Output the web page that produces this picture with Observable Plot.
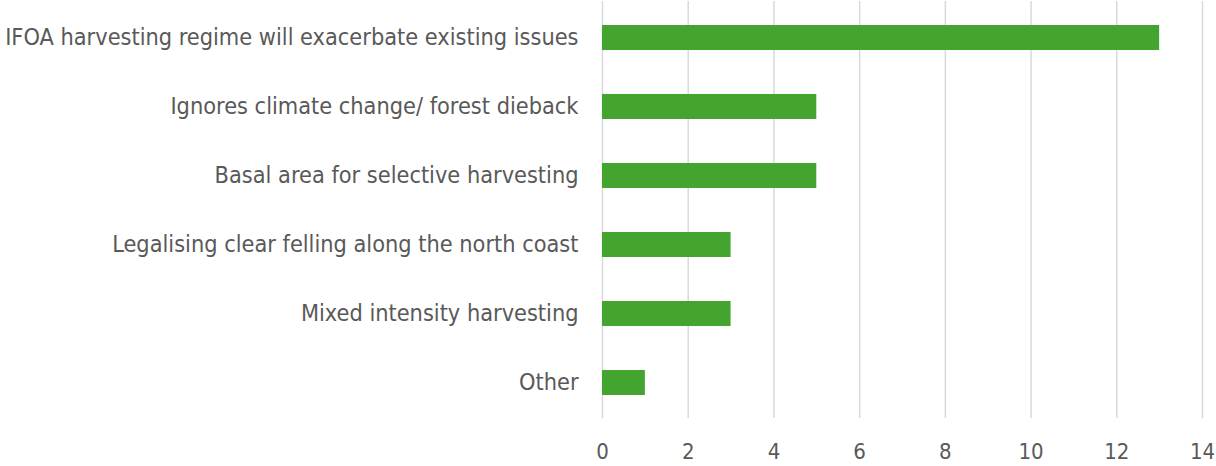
<!DOCTYPE html>
<html>
<head>
<meta charset="utf-8">
<script src="https://cdn.jsdelivr.net/npm/d3@7"></script>
<script src="https://cdn.jsdelivr.net/npm/@observablehq/plot@0.6"></script>
<style>
  html, body { margin: 0; padding: 0; background: #fff; }
  #chart svg { display: block; }
  #chart svg text { font-stretch: condensed; }
</style>
</head>
<body>
<div id="chart"></div>
<script>
const categories = [
  "IFOA harvesting regime will exacerbate existing issues",
  "Ignores climate change/ forest dieback",
  "Basal area for selective harvesting",
  "Legalising clear felling along the north coast",
  "Mixed intensity harvesting",
  "Other"
];
const counts = [13, 5, 5, 3, 3, 1];
const xTicks = [0, 2, 4, 6, 8, 10, 12, 14];

const data = categories.map((c, i) => ({category: c, count: counts[i]}));

const chart = Plot.plot({
  width: 1216,
  height: 466,
  marginTop: 1,
  marginBottom: 48,
  marginLeft: 602,
  marginRight: 14,
  style: {fontFamily: "'DejaVu Sans Condensed', 'DejaVu Sans', Verdana, sans-serif", fontSize: "22px", color: "#595959", background: "#fff"},
  x: {domain: [0, 14], ticks: xTicks, tickSize: 0, tickPadding: 25, label: null},
  y: {domain: categories, paddingInner: 0.64, paddingOuter: 0.32, tickSize: 0, tickPadding: 24, label: null},
  marks: [
    Plot.ruleX(xTicks, {stroke: "#d9d9d9", strokeWidth: 1.5}),
    Plot.barX(data, {x: "count", y: "category", fill: "#43a52f"}),
    Plot.axisX({ticks: xTicks, tickSize: 0, tickPadding: 25, fill: "#595959", fontSize: 22}),
    Plot.axisY({tickSize: 0, tickPadding: 24, fill: "#595959", fontSize: 23.3})
  ]
});
document.getElementById("chart").appendChild(chart);
</script>
</body>
</html>
